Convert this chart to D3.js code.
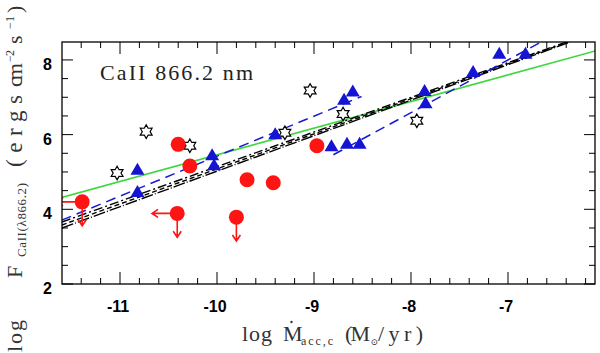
<!DOCTYPE html>
<html><head><meta charset="utf-8">
<script src="https://cdn.jsdelivr.net/npm/d3@7"></script>
<style>body{margin:0;background:#fff}svg{display:block}</style>
</head><body>
<svg id="chart" width="600" height="353"></svg>
<script>
// ---- data ----
const xTickValues = [-11, -10, -9, -8, -7];
const yTickValues = [2, 4, 6, 8];
// red circles: [logMacc, logF, leftArrow, downArrow]
const redX = [-11.39, -10.40, -10.28, -10.41, -9.80, -9.69, -9.42, -8.97];
const redY = [4.20, 5.74, 5.16, 3.89, 3.79, 4.79, 4.71, 5.70];
const redLeft = [1, 0, 0, 1, 0, 0, 0, 0];
const redDown = [1, 0, 0, 1, 1, 0, 0, 0];
// blue triangles
const triX = [-10.82, -10.82, -10.05, -10.03, -9.40, -8.69, -8.60, -8.82, -8.66, -8.53, -7.86, -7.85, -7.36, -7.09, -6.82];
const triY = [5.07, 4.48, 5.46, 5.19, 6.02, 6.95, 7.17, 5.70, 5.77, 5.77, 7.18, 6.85, 7.69, 8.18, 8.18];
// open stars
const starX = [-10.73, -10.28, -11.03, -9.04, -8.70, -7.94, -9.30];
const starY = [6.08, 5.70, 4.97, 7.18, 6.55, 6.37, 6.05];
// fit lines: [x0, y0, x1, y1]
const greenLine = [-11.6, 4.32, -6.1, 8.24];
const blackLines = [[-11.6, 3.66, -6.40, 8.48], [-11.6, 3.58, -6.38, 8.48], [-11.6, 3.50, -6.36, 8.48]];
const blueLines = [[-11.6, 3.71, -8.51, 7.02], [-8.80, 5.46, -6.68, 8.45]];

// ---- layout ----
const svg = d3.select('#chart');
const L = 62, R = 595, T = 42, B = 284;
const x = d3.scaleLinear().domain([-11.598, -6.103]).range([L, R]);
const y = d3.scaleLinear().domain([2, 8.48]).range([B, T]);

svg.append('defs').append('clipPath').attr('id', 'clip')
  .append('rect').attr('x', L).attr('y', T).attr('width', R - L).attr('height', B - T);

const plot = svg.append('g').attr('clip-path', 'url(#clip)');

// ticks
const xMinor = d3.range(-11.4, -6.1, 0.2).map(v => +v.toFixed(1));
const yMinor = d3.range(2, 8.5, 0.5);
const tg = svg.append('g').attr('stroke', '#000').attr('stroke-width', 1);
xMinor.forEach(v => {
  const major = Math.abs(v - Math.round(v)) < 1e-6;
  const len = major ? 12 : 6;
  tg.append('line').attr('x1', x(v)).attr('x2', x(v)).attr('y1', B).attr('y2', B - len);
  tg.append('line').attr('x1', x(v)).attr('x2', x(v)).attr('y1', T).attr('y2', T + len);
});
yMinor.forEach(v => {
  const major = yTickValues.includes(v);
  const len = major ? 11 : 6;
  tg.append('line').attr('x1', L).attr('x2', L + len).attr('y1', y(v)).attr('y2', y(v));
  tg.append('line').attr('x1', R).attr('x2', R - len).attr('y1', y(v)).attr('y2', y(v));
});
svg.append('rect').attr('x', L).attr('y', T).attr('width', R - L).attr('height', B - T)
  .attr('fill', 'none').attr('stroke', '#000').attr('stroke-width', 1.3);

// tick labels
svg.append('g').selectAll('text').data(xTickValues).join('text')
  .attr('x', d => x(d) - 2).attr('y', 312).attr('text-anchor', 'middle')
  .attr('font-family', 'Liberation Sans, Arial, sans-serif').attr('font-weight', 'bold')
  .attr('font-size', 16).text(d => d);
svg.append('g').selectAll('text').data(yTickValues).join('text')
  .attr('x', 52).attr('y', d => y(d) + 10).attr('text-anchor', 'end')
  .attr('font-family', 'Liberation Sans, Arial, sans-serif').attr('font-weight', 'bold')
  .attr('font-size', 16).text(d => d);

// lines
const seg = (g, s) => g.append('line').attr('x1', x(s[0])).attr('y1', y(s[1])).attr('x2', x(s[2])).attr('y2', y(s[3]));
seg(plot, greenLine).attr('stroke', '#3ed83e').attr('stroke-width', 1.6);
const blackDash = ['9,3,2,3', '5,3', '12,2,1,2'];
blackLines.forEach((s, i) => seg(plot, s).attr('stroke', '#000').attr('stroke-width', 1.4).attr('stroke-dasharray', blackDash[i]));
blueLines.forEach(s => seg(plot, s).attr('stroke', '#1a1ad0').attr('stroke-width', 1.5).attr('stroke-dasharray', '10,6'));

// arrows for upper limits
const red = '#ff1414';
const arrows = plot.append('g').attr('stroke', red).attr('stroke-width', 1.6).attr('fill', 'none');
redX.forEach((vx, i) => {
  const cx = x(vx), cy = y(redY[i]);
  if (redDown[i]) {
    const ty = y(redY[i] - 0.64);
    arrows.append('path').attr('d', `M${cx},${cy}V${ty}M${cx - 4},${ty - 6}L${cx},${ty}L${cx + 4},${ty - 6}`);
  }
  if (redLeft[i]) {
    const tx = x(vx - 0.26);
    arrows.append('path').attr('d', `M${cx},${cy}H${tx}M${tx + 6},${cy - 4}L${tx},${cy}L${tx + 6},${cy + 4}`);
  }
});

// stars
const starPts = d3.range(12).map(k => {
  const a = -Math.PI / 2 + k * Math.PI / 6, r = k % 2 ? 3.9 : 6.8;
  return [r * Math.cos(a), r * Math.sin(a)];
});
const starPath = 'M' + starPts.map(p => p.join(',')).join('L') + 'Z';
plot.append('g').selectAll('path').data(starX).join('path')
  .attr('d', starPath).attr('transform', (d, i) => `translate(${x(d)},${y(starY[i])})`)
  .attr('fill', '#fff').attr('stroke', '#000').attr('stroke-width', 1.2);

// triangles
plot.append('g').selectAll('path').data(triX).join('path')
  .attr('d', 'M0,-6.5L7,5.5L-7,5.5Z').attr('transform', (d, i) => `translate(${x(d)},${y(triY[i])})`)
  .attr('fill', '#1414d2');

// red circles
plot.append('g').selectAll('circle').data(redX).join('circle')
  .attr('cx', d => x(d)).attr('cy', (d, i) => y(redY[i])).attr('r', 7.5).attr('fill', red);

// in-plot label
svg.append('text').attr('x', 100).attr('y', 80).attr('textLength', 153).attr('lengthAdjust', 'spacing')
  .attr('font-family', 'Liberation Serif, serif').attr('font-size', 22).attr('fill', '#222').text('CaII 866.2 nm');

// axis titles
const serif = 'Liberation Serif, DejaVu Serif, serif';
const tcol = '#333';
function piece(g, txt, x0, len, base, size) {
  return g.append('text').attr('x', x0).attr('y', base).attr('textLength', len).attr('lengthAdjust', 'spacing')
    .attr('font-family', serif).attr('font-size', size).attr('fill', tcol).text(txt);
}
const xt = svg.append('g');
piece(xt, 'log', 242, 30, 341, 22);
piece(xt, 'M', 283, 17, 341, 22);
xt.append('circle').attr('cx', 291.5).attr('cy', 322).attr('r', 1.2).attr('fill', tcol);
piece(xt, 'acc,c', 301, 32, 345, 12);
piece(xt, '(M', 345, 25, 341, 22);
piece(xt, '\u2299', 370.5, 6, 345, 9);
piece(xt, '/yr)', 378, 45, 341, 22);

const yt = svg.append('g').attr('transform', 'rotate(-90)');
piece(yt, 'log', -352, 32, 22, 22);
piece(yt, 'F', -278, 18, 22, 22);
piece(yt, 'CaII(\u03bb866.2)', -257, 74, 26, 13);
piece(yt, '(ergs', -167, 72, 22, 23);
piece(yt, 'cm', -87, 24, 22, 22);
piece(yt, '\u22122', -62, 12, 14, 12);
piece(yt, 's', -44, 11, 22, 22);
piece(yt, '\u22121', -29, 13, 14, 12);
piece(yt, ')', -13, 7, 22, 22);
</script>
</body></html>
